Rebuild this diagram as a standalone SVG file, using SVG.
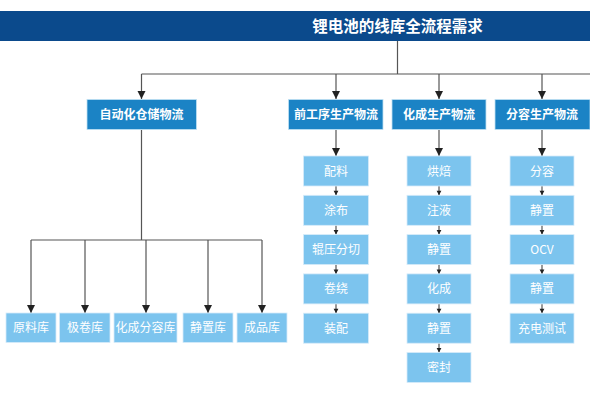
<svg xmlns="http://www.w3.org/2000/svg" width="590" height="395" viewBox="0 0 590 395">
<style>
.hdr{fill:#0b4a8c}
.l2{fill:#1b83c5;stroke:#bfe0f3;stroke-width:0.8}
.l3{fill:#7cc4ee;stroke:#d6ecf9;stroke-width:0.8}
text{font-family:"Noto Sans CJK SC","Noto Sans",sans-serif;fill:#fff;text-anchor:middle}
.t1{font-size:15.5px;font-weight:bold}
.t2{font-size:12px;font-weight:bold}
.t3{font-size:12px}
.ln{fill:none;stroke:#555;stroke-width:1.2}
</style>
<defs>
<marker id="big" markerUnits="userSpaceOnUse" markerWidth="10" markerHeight="10" viewBox="0 0 10 10" refX="5" refY="9" orient="0">
<path d="M1,1 L9,1 L5,9 Z" fill="#222"/>
</marker>
<marker id="sm" markerUnits="userSpaceOnUse" markerWidth="6" markerHeight="6" viewBox="0 0 6 6" refX="3" refY="5.5" orient="0">
<path d="M0.6,1 L5.4,1 L3,5.5 Z" fill="#222"/>
</marker>
</defs>
<rect width="590" height="395" fill="#fff"/>
<g id="connectors">
<path class="ln" d="M397.5,41 V74 M141.5,74 H590"/>
<path class="ln" d="M141.5,74 V99" marker-end="url(#big)"/>
<path class="ln" d="M336,74 V99" marker-end="url(#big)"/>
<path class="ln" d="M439,74 V99" marker-end="url(#big)"/>
<path class="ln" d="M542,74 V99" marker-end="url(#big)"/>
<path class="ln" d="M141.5,130 V240 M31,240 H262"/>
<path class="ln" d="M31,240 V313" marker-end="url(#big)"/>
<path class="ln" d="M85,240 V313" marker-end="url(#big)"/>
<path class="ln" d="M146,240 V313" marker-end="url(#big)"/>
<path class="ln" d="M208,240 V313" marker-end="url(#big)"/>
<path class="ln" d="M262,240 V313" marker-end="url(#big)"/>
<path class="ln" d="M336,130 V156" marker-end="url(#big)"/>
<path class="ln" d="M439,130 V156" marker-end="url(#big)"/>
<path class="ln" d="M542,130 V156" marker-end="url(#big)"/>
<path class="ln" d="M336,186 V195.3" marker-end="url(#sm)"/>
<path class="ln" d="M336,225.3 V234.6" marker-end="url(#sm)"/>
<path class="ln" d="M336,264.6 V273.9" marker-end="url(#sm)"/>
<path class="ln" d="M336,303.9 V313.2" marker-end="url(#sm)"/>
<path class="ln" d="M439,186 V195.3" marker-end="url(#sm)"/>
<path class="ln" d="M439,225.3 V234.6" marker-end="url(#sm)"/>
<path class="ln" d="M439,264.6 V273.9" marker-end="url(#sm)"/>
<path class="ln" d="M439,303.9 V313.2" marker-end="url(#sm)"/>
<path class="ln" d="M439,343.2 V352.5" marker-end="url(#sm)"/>
<path class="ln" d="M542,186 V195.3" marker-end="url(#sm)"/>
<path class="ln" d="M542,225.3 V234.6" marker-end="url(#sm)"/>
<path class="ln" d="M542,264.6 V273.9" marker-end="url(#sm)"/>
<path class="ln" d="M542,303.9 V313.2" marker-end="url(#sm)"/>
</g>
<g id="title"><rect class="hdr" x="0" y="11" width="590" height="30"/><text class="t1" x="397.5" y="31.5">锂电池的线库全流程需求</text></g>
<g id="n-auto"><rect class="l2" x="87" y="99.5" width="109.5" height="30"/><text class="t2" x="141.5" y="119">自动化仓储物流</text></g>
<g id="n-front"><rect class="l2" x="288.5" y="99.5" width="94.5" height="30"/><text class="t2" x="336" y="119">前工序生产物流</text></g>
<g id="n-form"><rect class="l2" x="392" y="99.5" width="94" height="30"/><text class="t2" x="439" y="119">化成生产物流</text></g>
<g id="n-grade"><rect class="l2" x="495" y="99.5" width="95" height="30"/><text class="t2" x="542" y="119">分容生产物流</text></g>
<g id="w1"><rect class="l3" x="6" y="313" width="50" height="29.5"/><text class="t3" x="31" y="332">原料库</text></g>
<g id="w2"><rect class="l3" x="59.5" y="313" width="50.5" height="29.5"/><text class="t3" x="85" y="332">极卷库</text></g>
<g id="w3"><rect class="l3" x="114" y="313" width="63" height="29.5"/><text class="t3" x="145.5" y="332">化成分容库</text></g>
<g id="w4"><rect class="l3" x="183" y="313" width="50" height="29.5"/><text class="t3" x="208" y="332">静置库</text></g>
<g id="w5"><rect class="l3" x="237" y="313" width="50" height="29.5"/><text class="t3" x="262" y="332">成品库</text></g>
<g id="f1"><rect class="l3" x="303.5" y="156" width="65" height="30"/><text class="t3" x="336" y="175.5">配料</text></g>
<g id="f2"><rect class="l3" x="303.5" y="195.3" width="65" height="30"/><text class="t3" x="336" y="214.8">涂布</text></g>
<g id="f3"><rect class="l3" x="303.5" y="234.6" width="65" height="30"/><text class="t3" x="336" y="254.1">辊压分切</text></g>
<g id="f4"><rect class="l3" x="303.5" y="273.9" width="65" height="30"/><text class="t3" x="336" y="293.4">卷绕</text></g>
<g id="f5"><rect class="l3" x="303.5" y="313.2" width="65" height="30"/><text class="t3" x="336" y="332.7">装配</text></g>
<g id="c1"><rect class="l3" x="407" y="156" width="64" height="30"/><text class="t3" x="439" y="175.5">烘焙</text></g>
<g id="c2"><rect class="l3" x="407" y="195.3" width="64" height="30"/><text class="t3" x="439" y="214.8">注液</text></g>
<g id="c3"><rect class="l3" x="407" y="234.6" width="64" height="30"/><text class="t3" x="439" y="254.1">静置</text></g>
<g id="c4"><rect class="l3" x="407" y="273.9" width="64" height="30"/><text class="t3" x="439" y="293.4">化成</text></g>
<g id="c5"><rect class="l3" x="407" y="313.2" width="64" height="30"/><text class="t3" x="439" y="332.7">静置</text></g>
<g id="c6"><rect class="l3" x="407" y="352.5" width="64" height="30"/><text class="t3" x="439" y="372">密封</text></g>
<g id="g1"><rect class="l3" x="510" y="156" width="64" height="30"/><text class="t3" x="542" y="175.5">分容</text></g>
<g id="g2"><rect class="l3" x="510" y="195.3" width="64" height="30"/><text class="t3" x="542" y="214.8">静置</text></g>
<g id="g3"><rect class="l3" x="510" y="234.6" width="64" height="30"/><text class="t3" x="542" y="254.1">OCV</text></g>
<g id="g4"><rect class="l3" x="510" y="273.9" width="64" height="30"/><text class="t3" x="542" y="293.4">静置</text></g>
<g id="g5"><rect class="l3" x="510" y="313.2" width="64" height="30"/><text class="t3" x="542" y="332.7">充电测试</text></g>
</svg>
